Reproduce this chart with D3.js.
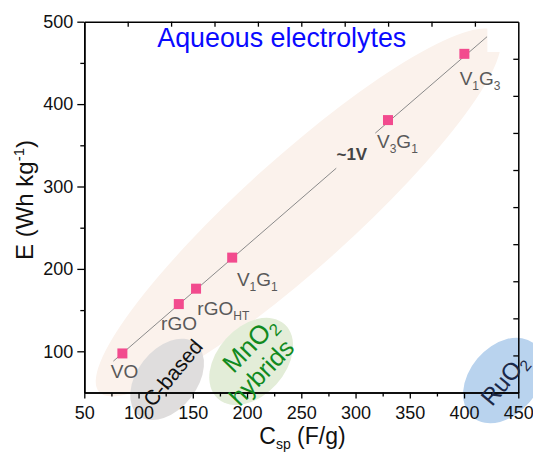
<!DOCTYPE html>
<html>
<head>
<meta charset="utf-8">
<script src="https://cdn.jsdelivr.net/npm/d3@7"></script>
<style>
  html, body { margin: 0; padding: 0; background: #fff; }
  svg { display: block; }
  text { font-family: "Liberation Sans", Arial, sans-serif; }
</style>
</head>
<body>
<svg id="chart" width="533" height="454"></svg>
<script>
// ---------------- data ----------------
const categories = ["VO", "rGO", "rGO_HT", "V1G1", "V3G1", "V1G3"];
const capacitance = [85.1, 137.1, 153.0, 186.3, 329.9, 400.3];   // F/g
const energy      = [97.4, 157.3, 176.0, 213.7, 380.6, 461.0];   // Wh/kg
// label pieces: [text, isSubscript]
const labelParts = [
  [["VO", 0]],
  [["rGO", 0]],
  [["rGO", 0], ["HT", 1]],
  [["V", 0], ["1", 1], ["G", 0], ["1", 1]],
  [["V", 0], ["3", 1], ["G", 0], ["1", 1]],
  [["V", 0], ["1", 1], ["G", 0], ["3", 1]]
];
// ~1V guide line (two segments, gap for label)
const guideC = [[76.8, 282.2], [318.2, 421.2]];
const guideE = [[88.1, 322.2], [364.8, 481.8]];

// region ellipses
const regionNames = ["Aqueous", "C-based", "MnO2 hybrids", "RuO2"];
const regionC = [247.2, 126.3, 203.8, 436.3];
const regionE = [268.5, 65.9, 87.7, 64.6];

const xTicks = [50, 100, 150, 200, 250, 300, 350, 400, 450];
const xMinor = [75, 125, 175, 225, 275, 325, 375, 425];
const yTicks = [100, 200, 300, 400, 500];
const yMinor = [150, 250, 350, 450];
const topTicks = [90, 130, 170, 210, 250, 290, 330, 370, 410];
const rightTicks = [95, 140, 185, 230, 275, 320, 365, 410, 455];

// ---------------- layout / style ----------------
const mLeft = 84.3, mRight = 518.3, mTop = 21.7, mBottom = 392.5;
const regionStyle = [
  { rx: 268, ry: 55, rot: -42, fill: "#fbf2ec" },
  { rx: 46, ry: 30, rot: -52, fill: "#dfdddd" },
  { rx: 50, ry: 34, rot: -48, fill: "#e3edd8" },
  { rx: 48, ry: 34, rot: -50, fill: "#b9d3ee" }
];
const labelOffsets = [[-11.6, 24.5], [-17.7, 26.3], [1.3, 26.7], [4.7, 28.5], [-11, 28.3], [-4.7, 31.3]];

const svg = d3.select("#chart");
const x = d3.scaleLinear().domain([50, 450]).range([mLeft, mRight]);
const y = d3.scaleLinear().domain([50, 500]).range([mBottom, mTop]);

// ellipses
const gReg = svg.append("g");
regionNames.forEach((name, i) => {
  const s = regionStyle[i];
  gReg.append("ellipse")
    .attr("cx", 0).attr("cy", 0).attr("rx", s.rx).attr("ry", s.ry)
    .attr("fill", s.fill)
    .attr("transform", `translate(${x(regionC[i])},${y(regionE[i])}) rotate(${s.rot})`);
  if (i === 0) {
    // white notch at top right of the aqueous region (as in source)
    gReg.append("rect")
      .attr("x", x(421.5)).attr("y", y(500))
      .attr("width", x(446) - x(421.5)).attr("height", y(463.2) - y(500))
      .attr("fill", "#fff");
  }
});

// guide line
const lineGen = d3.line().x(d => x(d[0])).y(d => y(d[1]));
guideC.forEach((seg, i) => {
  svg.append("path")
    .datum(seg.map((c, j) => [c, guideE[i][j]]))
    .attr("d", lineGen)
    .attr("fill", "none").attr("stroke", "#8a8a8a").attr("stroke-width", 1);
});

// markers
svg.append("g").selectAll("rect").data(categories).join("rect")
  .attr("x", (d, i) => x(capacitance[i]) - 5)
  .attr("y", (d, i) => y(energy[i]) - 5)
  .attr("width", 10).attr("height", 10)
  .attr("fill", "#f24b8e");

// point labels
categories.forEach((c, i) => {
  const t = svg.append("text")
    .attr("x", x(capacitance[i]) + labelOffsets[i][0])
    .attr("y", y(energy[i]) + labelOffsets[i][1])
    .attr("fill", "#595959").attr("font-size", 19);
  let prevSub = 0;
  labelParts[i].forEach(([txt, sub]) => {
    const ts = t.append("tspan").text(txt);
    if (sub && !prevSub) ts.attr("dy", 5).attr("font-size", 12);
    else if (!sub && prevSub) ts.attr("dy", -5);
    else if (sub) ts.attr("font-size", 12);
    prevSub = sub;
  });
});

// ~1V label
svg.append("text")
  .attr("x", x(282.4)).attr("y", y(332))
  .attr("font-size", 17).attr("font-weight", "bold").attr("fill", "#444")
  .text("~1V");

// axes
function styleAxis(g) {
  g.selectAll("path.domain").attr("stroke", "#000").attr("stroke-width", 1.5);
  g.selectAll(".tick line").attr("stroke", "#000").attr("stroke-width", 1.3);
  g.selectAll(".tick text").attr("font-size", 18).attr("fill", "#111")
    .attr("font-family", "'Liberation Sans', Arial, sans-serif");
}
svg.append("g").attr("transform", `translate(0,${mBottom})`)
  .call(d3.axisBottom(x).tickValues(xMinor).tickSize(4).tickSizeOuter(0).tickFormat(""))
  .call(styleAxis);
svg.append("g").attr("transform", `translate(0,${mBottom})`)
  .call(d3.axisBottom(x).tickValues(xTicks).tickSize(6).tickSizeOuter(0).tickPadding(8).tickFormat(d3.format("d")))
  .call(styleAxis);
svg.append("g").attr("transform", `translate(${mLeft},0)`)
  .call(d3.axisLeft(y).tickValues(yMinor).tickSize(4).tickSizeOuter(0).tickFormat(""))
  .call(styleAxis);
svg.append("g").attr("transform", `translate(${mLeft},0)`)
  .call(d3.axisLeft(y).tickValues(yTicks).tickSize(7).tickSizeOuter(0).tickPadding(4).tickFormat(d3.format("d")))
  .call(styleAxis);
svg.append("g").attr("transform", `translate(0,${mTop})`)
  .call(d3.axisTop(x).tickValues(topTicks).tickSize(-5).tickSizeOuter(0).tickFormat(""))
  .call(styleAxis);
svg.append("g").attr("transform", `translate(${mRight},0)`)
  .call(d3.axisRight(y).tickValues(rightTicks).tickSize(-5).tickSizeOuter(0).tickFormat(""))
  .call(styleAxis);

// region texts
function rotText(cx, cy, rot, size, color, parts) {
  const t = svg.append("text")
    .attr("transform", `translate(${x(cx)},${y(cy)}) rotate(${rot})`)
    .attr("text-anchor", "middle").attr("dominant-baseline", "central")
    .attr("font-size", size).attr("fill", color);
  let prevSub = 0;
  parts.forEach(([txt, sub]) => {
    const ts = t.append("tspan").text(txt);
    if (sub && !prevSub) ts.attr("dy", size * 0.3).attr("font-size", size * 0.65);
    else if (!sub && prevSub) ts.attr("dy", -size * 0.3);
    prevSub = sub;
  });
  return t;
}
rotText(131.1, 74.4, -50, 21, "#111", [["C-based", 0]]);
rotText(202.5, 108.5, -46, 26, "#118a1e", [["MnO", 0], ["2", 1]]);
rotText(213, 75, -46, 25, "#118a1e", [["hybrids", 0]]);
rotText(436.5, 66, -50, 24, "#1b2848", [["RuO", 0], ["2", 1]]);

// title
const title = svg.append("text")
  .attr("x", x(117.3)).attr("y", y(469.6))
  .attr("font-family", "Lato, 'Open Sans', sans-serif")
  .attr("font-size", 24).attr("fill", "#0a0aff")
  .text("Aqueous electrolytes");
const tw = title.node().getComputedTextLength();
title.attr("font-size", 24 * 249 / tw);

// axis titles
const yl = svg.append("text")
  .attr("transform", `translate(33,200) rotate(-90)`)
  .attr("text-anchor", "middle").attr("font-size", 24).attr("fill", "#111");
yl.append("tspan").text("E (Wh kg");
yl.append("tspan").text("-1").attr("font-size", 15).attr("dy", -9);
yl.append("tspan").text(")").attr("dy", 9);

const xl = svg.append("text")
  .attr("x", 259.3).attr("y", 444)
  .attr("font-size", 23).attr("fill", "#111");
xl.append("tspan").text("C");
xl.append("tspan").text("sp").attr("font-size", 14).attr("dy", 5);
xl.append("tspan").text(" (F/g)").attr("dy", -5);
</script>
</body>
</html>
